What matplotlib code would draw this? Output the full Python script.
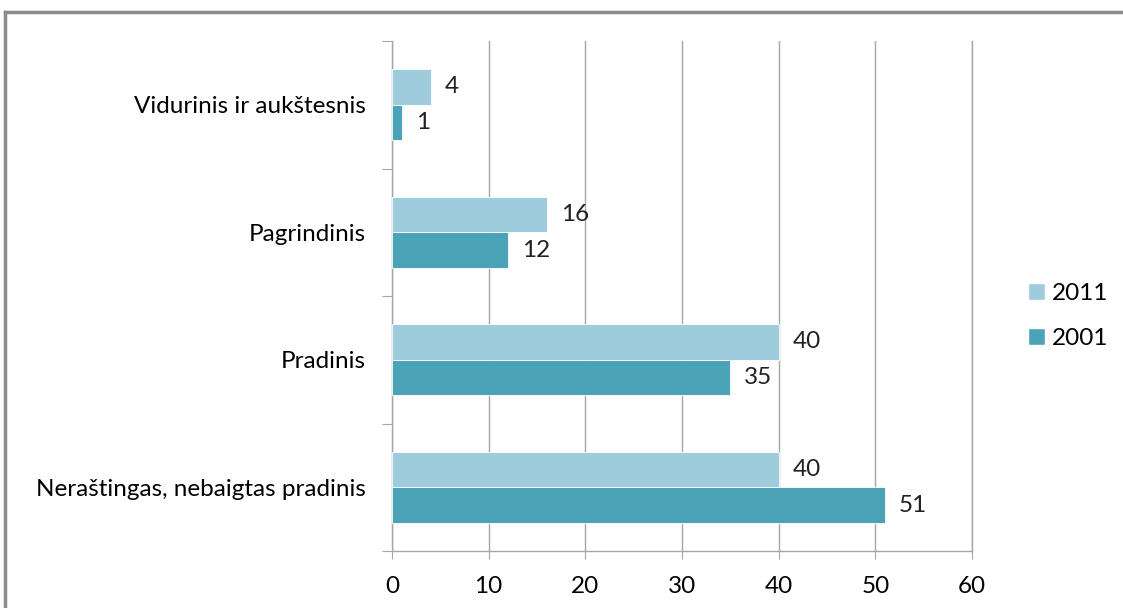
import matplotlib
matplotlib.use('Agg')
import matplotlib.pyplot as plt
from matplotlib.lines import Line2D
from matplotlib.patches import Patch
import numpy as np

plt.rcParams['font.family'] = ['Lato', 'DejaVu Sans']

categories = ['Neraštingas, nebaigtas pradinis', 'Pradinis', 'Pagrindinis',
              'Vidurinis ir aukštesnis']
values_2011 = [40, 40, 16, 4]
values_2001 = [51, 35, 12, 1]
series_labels = ['2011', '2001']

color_2011 = '#9ECCDC'
color_2001 = '#4BA3B8'
grid_color = '#A6A6A6'
fs = 17.5

fig = plt.figure(figsize=(11.23, 6.08), dpi=100)
ax = fig.add_axes([392 / 1123, 1 - 551 / 608, 580 / 1123, 510 / 608])

y = np.arange(len(categories))
h = 0.28

bars_2001 = ax.barh(y - h / 2, values_2001, h, color=color_2001,
                    edgecolor='white', linewidth=0.6, zorder=3)
bars_2011 = ax.barh(y + h / 2, values_2011, h, color=color_2011,
                    edgecolor='white', linewidth=0.6, zorder=3)

for bars in (bars_2011, bars_2001):
    for rect in bars:
        w = rect.get_width()
        ax.annotate('{}'.format(w),
                    xy=(w, rect.get_y() + rect.get_height() / 2),
                    xytext=(10, 0), textcoords='offset points',
                    ha='left', va='center', fontsize=fs, color='#222222')

ax.set_xlim(0, 60)
ax.set_ylim(-0.5, len(categories) - 0.5)
ax.set_xticks(np.arange(0, 61, 10))
ax.xaxis.grid(True, color=grid_color, linewidth=1, zorder=0)

# category labels at group centers, ticks at group boundaries
ax.set_yticks(np.arange(-0.5, len(categories), 1))
ax.set_yticklabels([])
ax.set_yticks(y, minor=True)
ax.set_yticklabels(categories, minor=True, fontsize=fs)
ax.tick_params(axis='y', which='minor', length=0, pad=19)
ax.tick_params(axis='y', which='major', length=7, color=grid_color)
ax.tick_params(axis='x', length=6, color=grid_color, labelsize=fs, pad=12)

ax.spines['top'].set_visible(False)
for s in ('left', 'bottom', 'right'):
    ax.spines[s].set_color(grid_color)
    ax.spines[s].set_linewidth(1)

handles = [Patch(facecolor=color_2011, edgecolor='white'),
           Patch(facecolor=color_2001, edgecolor='white')]
fig.legend(handles, series_labels, loc='center left',
           bbox_to_anchor=(1006 / 1123, 1 - 316 / 608), frameon=False,
           fontsize=fs, handlelength=0.7, handleheight=0.7,
           handletextpad=0.3, labelspacing=1.0)

# outer frame
fig.add_artist(Line2D([5 / 1123, 5 / 1123], [0, 1 - 12 / 608],
                      color='#8C8C8C', linewidth=2.5))
fig.add_artist(Line2D([5 / 1123, 1], [1 - 12 / 608, 1 - 12 / 608],
                      color='#8C8C8C', linewidth=2.5))

fig.savefig('out.png', dpi=100)
